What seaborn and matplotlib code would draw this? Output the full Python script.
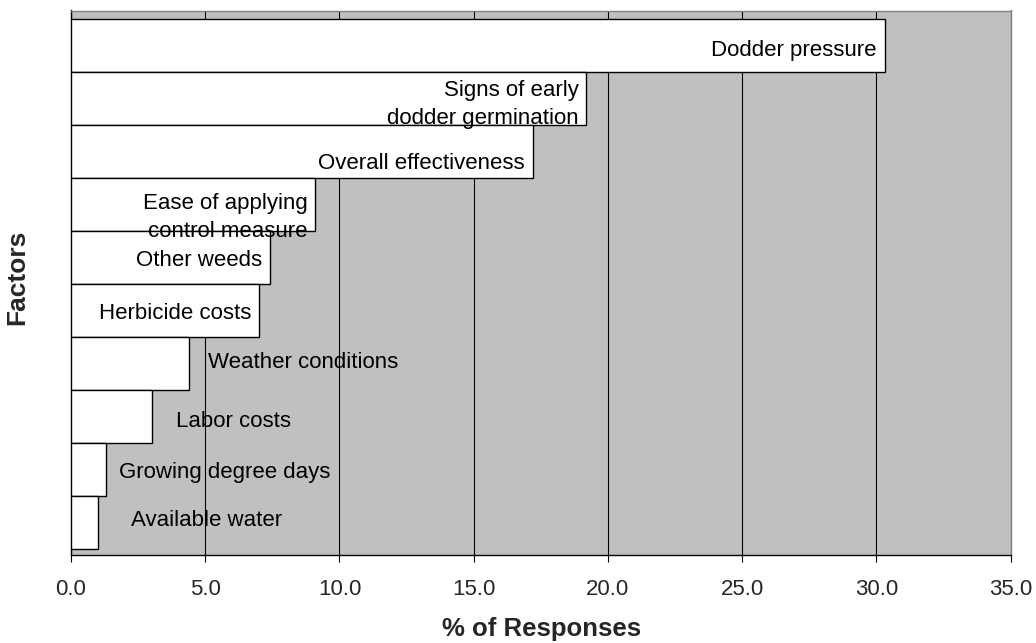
import matplotlib
matplotlib.use("Agg")
import matplotlib.pyplot as plt
import seaborn as sns
import pandas as pd

factors = ["Dodder pressure", "Signs of early\ndodder germination", "Overall effectiveness",
           "Ease of applying\ncontrol measure", "Other weeds", "Herbicide costs",
           "Weather conditions", "Labor costs", "Growing degree days", "Available water"]
responses = [30.3, 19.2, 17.2, 9.1, 7.4, 7.0, 4.4, 3.0, 1.3, 1.0]
x_ticks = [0, 5, 10, 15, 20, 25, 30, 35]
x_tick_labels = ["0.0", "5.0", "10.0", "15.0", "20.0", "25.0", "30.0", "35.0"]

# label placement (pixels): inside bars for the first six, outside for the rest
label_inside = [True, True, True, True, True, True, False, False, False, False]
label_dx = [-8, -8, -8, -8, -8, -8, 19, 24, 13, 33]
label_dy = [-5, -6, -12, -13, -3, -3, 1, -5, -3, 2]

sns.set_theme(style="white")
plt.rcParams["font.family"] = ["Liberation Sans", "DejaVu Sans"]

df = pd.DataFrame({"factor": factors, "pct": responses})

W, H = 1036, 643
fig = plt.figure(figsize=(W / 100, H / 100), dpi=100)
ax = fig.add_axes([71 / W, 1 - 555 / H, (1010.7 - 71) / W, (555 - 10.5) / H])
ax.set_facecolor("#C0C0C0")

sns.barplot(data=df, x="pct", y="factor", orient="h", width=1.0, color="white",
            edgecolor="black", linewidth=1.0, saturation=1, ax=ax, zorder=3)

ax.set_xlim(0, 35)
ax.set_ylim(9.62, -0.67)
ax.set_xticks(x_ticks)
ax.set_xticklabels(x_tick_labels, fontsize=16)
ax.set_yticks([])
ax.xaxis.grid(True, color="black", linewidth=0.8, zorder=1)
ax.set_axisbelow(True)
ax.tick_params(axis="x", direction="out", length=5, width=0.8, color="black", pad=12,
               bottom=True)

for s in ["top", "right"]:
    ax.spines[s].set_color("#808080")
    ax.spines[s].set_linewidth(1.0)
for s in ["left", "bottom"]:
    ax.spines[s].set_color("black")
    ax.spines[s].set_linewidth(1.0)

for i, (lab, val) in enumerate(zip(factors, responses)):
    ax.annotate(lab, xy=(val, i), xytext=(label_dx[i], label_dy[i]),
                textcoords="offset pixels",
                ha="right" if label_inside[i] else "left", va="center",
                multialignment="right" if label_inside[i] else "left",
                fontsize=16, linespacing=1.45, color="black", zorder=5)

ax.set_xlabel("")
ax.set_ylabel("")
fig.text(542 / W, 1 - 636 / H, "% of Responses", fontsize=18.5, fontweight="bold",
         ha="center", va="baseline")
fig.text(17 / W, 1 - 277 / H, "Factors", fontsize=19, fontweight="bold",
         ha="center", va="center", rotation=90)

fig.savefig("out.png", dpi=100)
